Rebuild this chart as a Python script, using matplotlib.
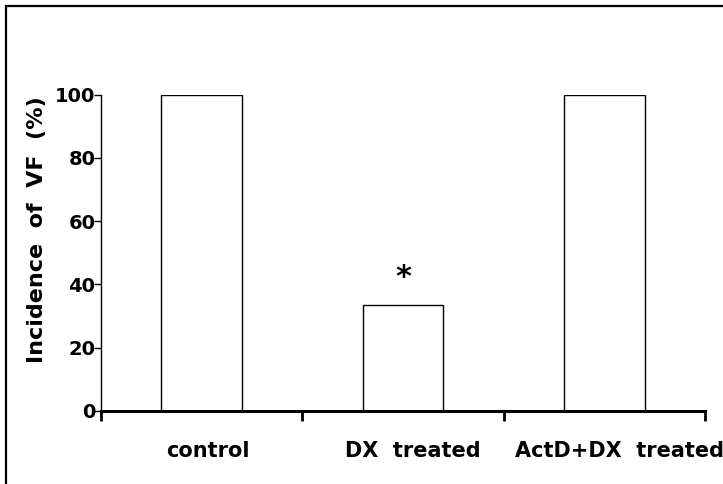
import matplotlib.pyplot as plt
from matplotlib.patches import Rectangle
from matplotlib.transforms import ScaledTranslation

# data
groups = ["control", "DX  treated", "ActD+DX  treated"]
incidence = [100, 33.3, 100]
star_group = 1
star_y = 42

plt.rcParams['font.family'] = ['DejaVu Sans']

fig = plt.figure(figsize=(7.23, 4.84), dpi=100)
ax = fig.add_axes([101 / 723, 73.3 / 484, 604 / 723, 316 / 484])

x = list(range(len(groups)))
ax.bar(x, incidence, width=0.40, color='white', edgecolor='black', linewidth=1.0)
ax.text(star_group, star_y, "*", ha='center', va='center', fontsize=22, fontweight='bold')

ax.set_xlim(-0.5, 2.5)
ax.set_ylim(0, 100)
ax.set_yticks([0, 20, 40, 60, 80, 100])
ax.set_xticks(x)
ax.set_xticklabels(groups, fontsize=15, fontweight='bold')
ax.set_xticks([-0.5, 0.5, 1.5, 2.5], minor=True)
ax.tick_params(axis='x', which='major', length=0, pad=22)
ax.tick_params(axis='x', which='minor', length=7, width=2)
ax.tick_params(axis='y', length=5, width=1, labelsize=14, pad=-1)
for lab in ax.get_yticklabels():
    lab.set_fontweight('bold')

# the group labels sit a little right of the bar centres
shifts_px = [6, 10, 15]
for lab, dx in zip(ax.get_xticklabels(), shifts_px):
    lab.set_transform(lab.get_transform() + ScaledTranslation(dx / 100, 0, fig.dpi_scale_trans))

ax.set_ylabel("Incidence  of  VF  (%)", fontsize=16, fontweight='bold')
ax.yaxis.set_label_coords(-0.09, 0.572)

ax.spines['top'].set_visible(False)
ax.spines['right'].set_visible(False)
ax.spines['bottom'].set_linewidth(2.2)
ax.spines['left'].set_linewidth(1.0)

# outer frame (right and bottom edges fall outside the image)
fig.patches.append(Rectangle((6 / 723, -0.1), 1.2, 1.1 - 6 / 484, transform=fig.transFigure,
                             fill=False, edgecolor='black', linewidth=1.6))

fig.savefig("out.png", dpi=100)
